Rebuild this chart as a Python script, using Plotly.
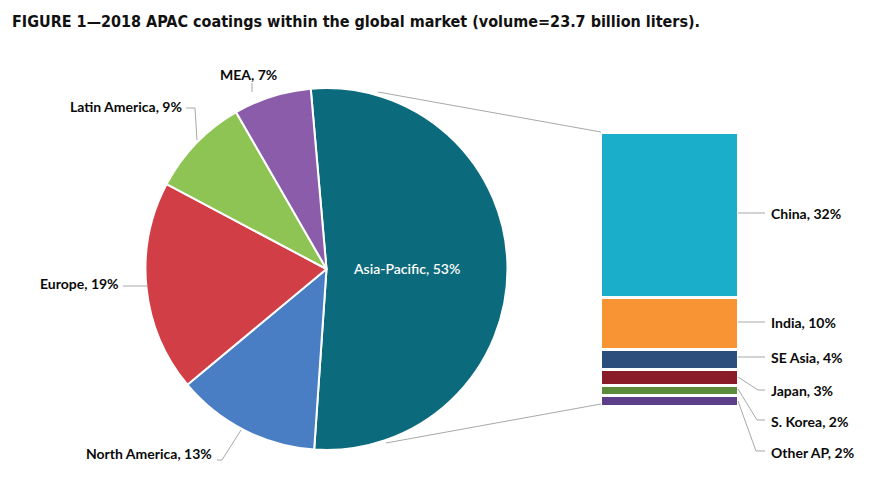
import plotly.graph_objects as go

# ---------------- data ----------------
regions = ["Asia-Pacific", "North America", "Europe", "Latin America", "MEA"]
region_share = [53, 13, 19, 9, 7]
region_colors = ["#0C6A7D", "#4A7EC4", "#D23E45", "#8EC454", "#8A5CA9"]

apac_countries = ["China", "India", "SE Asia", "Japan", "S. Korea", "Other AP"]
apac_share = [32, 10, 4, 3, 2, 2]
apac_colors = ["#1BAECB", "#F89434", "#2B4E7D", "#8A1C2A", "#5B8C3B", "#5C3F88"]

title_text = "FIGURE 1\u20142018 APAC coatings within the global market (volume=23.7 billion liters)."

W, H = 875, 495


def px(x):
    return x / W


def py(y):
    return 1 - y / H


LABEL_FONT = dict(family="Lato, Open Sans, sans-serif", size=14, color="#0a0a0a")
LINE = dict(color="#A8A8A8", width=1)

fig = go.Figure()

# ---------------- pie ----------------
fig.add_trace(go.Pie(
    labels=regions,
    values=region_share,
    textinfo="none",
    marker=dict(colors=region_colors, line=dict(color="white", width=2)),
    sort=False,
    direction="clockwise",
    rotation=-5,
    showlegend=False,
    hoverinfo="label+percent",
    domain=dict(x=[px(145), px(508)], y=[py(450), py(88)]),
))

# ---------------- stacked bar (APAC breakdown) ----------------
for name, val, col in reversed(list(zip(apac_countries, apac_share, apac_colors))):
    fig.add_trace(go.Bar(
        x=[0], y=[val], name=name,
        marker=dict(color=col, line=dict(color="white", width=3)),
        width=1, showlegend=False, xaxis="x", yaxis="y",
    ))

fig.update_layout(
    barmode="stack",
    xaxis=dict(domain=[px(600), px(738)], range=[-0.5, 0.5], visible=False, fixedrange=True),
    yaxis=dict(domain=[py(406), py(132)], range=[0, sum(apac_share)], visible=False, fixedrange=True),
)

annotations = []
shapes = []

# inside label for the big slice
annotations.append(dict(
    text=f"{regions[0]}, {region_share[0]}%", x=px(406), y=py(268), xref="paper", yref="paper",
    xanchor="center", yanchor="middle", showarrow=False,
    font=dict(family="Lato, Open Sans, sans-serif", size=14, color="white", weight=600),
))

# pie labels (outside)
pie_labels = [
    ("MEA, 7%", 248, 75, "center"),
    ("Latin America, 9%", 184, 106, "right"),
    ("Europe, 19%", 121, 283, "right"),
    ("North America, 13%", 214, 453, "right"),
]
for t, x, y, anc in pie_labels:
    annotations.append(dict(text=f"<b>{t}</b>", x=px(x), y=py(y), xref="paper", yref="paper",
                            xanchor=anc, yanchor="middle", showarrow=False, font=LABEL_FONT))

pie_leaders = [
    [(252, 83), (252, 92)],
    [(186, 108), (195, 108), (197, 140)],
    [(123, 286), (147, 286)],
    [(217, 460), (222, 460), (241, 430)],
]

# bar labels (right)
bar_labels = [
    ("China, 32%", 213),
    ("India, 10%", 322),
    ("SE Asia, 4%", 357),
    ("Japan, 3%", 390),
    ("S. Korea, 2%", 421),
    ("Other AP, 2%", 452),
]
for t, y in bar_labels:
    annotations.append(dict(text=f"<b>{t}</b>", x=px(769), y=py(y), xref="paper", yref="paper",
                            xanchor="left", yanchor="middle", showarrow=False, font=LABEL_FONT))

bar_leaders = [
    [(738, 213), (765, 213)],
    [(738, 322), (765, 322)],
    [(738, 357), (765, 357)],
    [(738, 377), (758, 390), (765, 390)],
    [(738, 389), (757, 420), (765, 420)],
    [(738, 401), (756, 451), (765, 451)],
]

# connector lines pie -> bar
connectors = [
    [(378, 92), (601, 132)],
    [(386, 443), (601, 404)],
]

for pts in pie_leaders + bar_leaders + connectors:
    path = "M " + " L ".join(f"{px(x):.5f},{py(y):.5f}" for x, y in pts)
    shapes.append(dict(type="path", path=path, xref="paper", yref="paper", line=LINE))

# title
annotations.append(dict(
    text=f"<b>{title_text}</b>", x=px(10), y=py(22), xref="paper", yref="paper",
    xanchor="left", yanchor="middle", showarrow=False,
    font=dict(family="DejaVu Sans Condensed, Liberation Sans Narrow, DejaVu Sans, sans-serif",
              size=16, color="#111111"),
))

fig.update_layout(
    width=W, height=H,
    margin=dict(l=0, r=0, t=0, b=0),
    paper_bgcolor="white", plot_bgcolor="white",
    annotations=annotations, shapes=shapes,
)

fig.write_html("out.html", config={"displayModeBar": False},
               post_script="document.body.style.margin='0';")
